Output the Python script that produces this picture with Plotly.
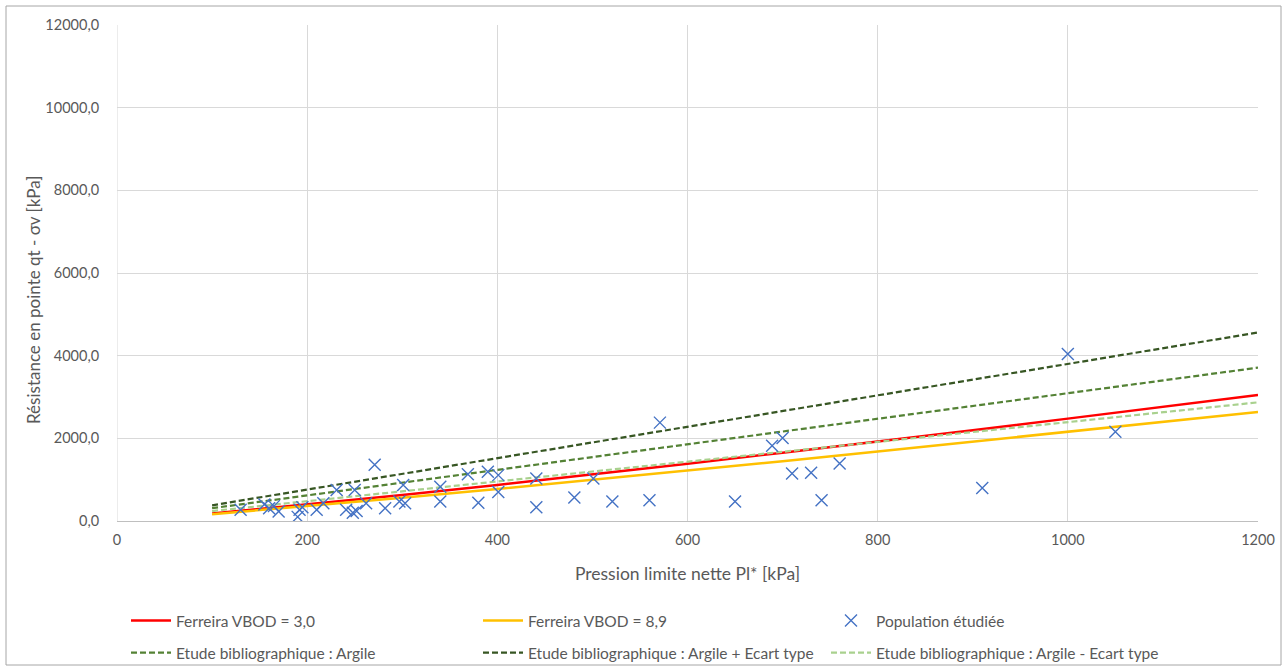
import plotly.graph_objects as go

# ---- data ----
pop_x = [130, 155, 160, 165, 170, 190, 192, 195, 210, 217, 231, 241, 248, 250, 252,
         262, 271, 282, 297, 301, 303, 340, 340, 369, 380, 390, 401, 401, 441, 441,
         481, 501, 521, 560, 571, 650, 689, 700, 710, 730, 741, 760, 910, 1000, 1050]
pop_y = [270, 400, 310, 360, 230, 100, 270, 330, 270, 430, 750, 270, 200, 750, 240,
         430, 1360, 310, 470, 870, 430, 830, 470, 1130, 440, 1190, 1110, 700, 1030, 330,
         570, 1030, 470, 500, 2380, 470, 1820, 2010, 1150, 1170, 500, 1390, 800, 4040, 2160]

ferreira_x = [100, 200, 300, 400, 500, 600, 700, 800, 900, 1000, 1100, 1200]
ferreira_30 = [180, 396, 629, 872, 1125, 1384, 1653, 1921, 2198, 2477, 2758, 3046]
ferreira_89 = [165, 358, 562, 775, 994, 1218, 1447, 1680, 1916, 2155, 2396, 2640]

biblio_x = [100, 1200]
argile = [310, 3710]
argile_plus = [380, 4560]
argile_minus = [240, 2870]

x_ticks = [0, 200, 400, 600, 800, 1000, 1200]
y_ticks = [0, 2000, 4000, 6000, 8000, 10000, 12000]

x_title = "Pression limite nette Pl* [kPa]"
y_title = "Résistance en pointe qt - σv [kPa]"

FONT = "Lato"
GREY = "#595959"

fig = go.Figure()

fig.add_trace(go.Scatter(x=ferreira_x, y=ferreira_30, mode="lines", name="Ferreira VBOD = 3,0",
                         line=dict(color="#FF0000", width=2.5), legend="legend"))
fig.add_trace(go.Scatter(x=ferreira_x, y=ferreira_89, mode="lines", name="Ferreira VBOD = 8,9",
                         line=dict(color="#FFC000", width=2.5), legend="legend2"))
fig.add_trace(go.Scatter(x=biblio_x, y=argile, mode="lines", name="Etude bibliographique : Argile",
                         line=dict(color="#548235", width=2.2, dash="6px,3px"), legend="legend4"))
fig.add_trace(go.Scatter(x=biblio_x, y=argile_plus, mode="lines",
                         name="Etude bibliographique : Argile + Ecart type",
                         line=dict(color="#375623", width=2.2, dash="6px,3px"), legend="legend5"))
fig.add_trace(go.Scatter(x=biblio_x, y=argile_minus, mode="lines",
                         name="Etude bibliographique : Argile - Ecart type",
                         line=dict(color="#A9D18E", width=2.2, dash="6px,3px"), legend="legend6"))
fig.add_trace(go.Scatter(x=pop_x, y=pop_y, mode="markers", name="Population étudiée",
                         marker=dict(symbol="x-thin", size=12, color="#4472C4",
                                     line=dict(color="#4472C4", width=1.4)),
                         legend="legend3"))

L, R, T, B = 117, 1258, 25, 521
W, H = 1287, 671


def px_x(p):
    return (p - L) / (R - L)


def px_y(p):
    return (B - p) / (B - T)


def cx(p):
    return p / W


def cy(p):
    return 1 - p / H


ITEMW = 40
row1, row2 = 621, 653
# text start positions of the three legend columns
col1, col2, col3 = 178, 530, 878
leg_common = dict(font=dict(family=FONT, size=15.5, color=GREY), bgcolor="rgba(0,0,0,0)",
                  xanchor="left", yanchor="middle", orientation="v",
                  xref="container", yref="container", itemwidth=ITEMW, borderwidth=0)


def leg(col, row):
    return dict(x=cx(col - ITEMW - 12), y=cy(row), **leg_common)


fig.update_layout(
    width=W, height=H,
    margin=dict(l=L, r=W - R, t=T, b=H - B, autoexpand=False),
    paper_bgcolor="white", plot_bgcolor="white",
    separators=",.",
    font=dict(family=FONT, color=GREY, size=14),
    showlegend=True,
    legend=leg(col1, row1),
    legend2=leg(col2, row1),
    legend3=leg(col3, row1),
    legend4=leg(col1, row2),
    legend5=leg(col2, row2),
    legend6=leg(col3, row2),
    xaxis=dict(range=[0, 1200], tickvals=x_ticks, showgrid=True, gridcolor="#d9d9d9", gridwidth=1,
               zeroline=False, showline=True, linecolor="#bfbfbf", linewidth=1,
               ticks="outside", ticklen=6, tickcolor="rgba(0,0,0,0)",
               tickfont=dict(family=FONT, size=14.5, color=GREY), automargin=True,
               title=dict(text=x_title, standoff=20,
                          font=dict(family=FONT, size=17.5, color=GREY))),
    yaxis=dict(range=[0, 12000], tickvals=y_ticks, tickformat=".1f", showgrid=True,
               gridcolor="#d9d9d9", gridwidth=1, zeroline=False, showline=False,
               ticks="outside", ticklen=14, tickcolor="rgba(0,0,0,0)",
               tickfont=dict(family=FONT, size=14.5, color=GREY), automargin=False),
    annotations=[
        dict(text=y_title, xref="paper", yref="paper", x=px_x(33), y=px_y(300),
             xanchor="center", yanchor="middle", textangle=-90, showarrow=False,
             font=dict(family=FONT, size=17, color=GREY)),
    ],
    shapes=[
        dict(type="line", xref="x", yref="paper", x0=0, x1=0, y0=0, y1=1,
             line=dict(color="#d9d9d9", width=1), layer="below"),
        dict(type="rect", xref="paper", yref="paper",
             x0=px_x(6), x1=px_x(1281), y0=px_y(665), y1=px_y(6),
             line=dict(color="#a6a6a6", width=1), fillcolor="rgba(0,0,0,0)"),
    ],
)

fig.write_html(
    "out.html",
    config={"displayModeBar": False},
    post_script="document.body.style.margin='0';document.body.style.overflow='hidden';",
)
